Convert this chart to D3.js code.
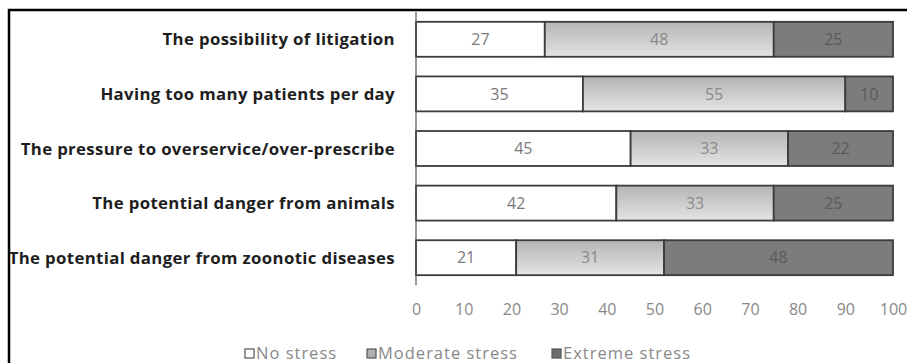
<!DOCTYPE html>
<html>
<head>
<meta charset="utf-8">
<script src="https://cdn.jsdelivr.net/npm/d3@7"></script>
<style>
  html, body { margin: 0; padding: 0; background: #fff; }
  svg { display: block; }
</style>
</head>
<body>
<svg id="chart" width="907" height="363"></svg>
<script>
// Sources of stress, top to bottom
const categories = [
  "The possibility of litigation",
  "Having too many patients per day",
  "The pressure to overservice/over-prescribe",
  "The potential danger from animals",
  "The potential danger from zoonotic diseases"
];
const seriesNames = ["No stress", "Moderate stress", "Extreme stress"];
const noStress = [27, 35, 45, 42, 21];
const moderateStress = [48, 55, 33, 33, 31];
const extremeStress = [25, 10, 22, 25, 48];
const xTicks = [0, 10, 20, 30, 40, 50, 60, 70, 80, 90, 100];

const rows = categories.map((c, i) => ({
  category: c,
  "No stress": noStress[i],
  "Moderate stress": moderateStress[i],
  "Extreme stress": extremeStress[i]
}));

const svg = d3.select("#chart");

// Frame (only top and left edges fall inside the view)
svg.append("path")
  .attr("d", "M9,363 V10 H907")
  .attr("fill", "none")
  .attr("stroke", "#000")
  .attr("stroke-width", 2.5);

const defs = svg.append("defs");
const grad = defs.append("linearGradient")
  .attr("id", "modGrad").attr("x1", 0).attr("y1", 0).attr("x2", 0).attr("y2", 1);
grad.append("stop").attr("offset", "0%").attr("stop-color", "#b4b4b4");
grad.append("stop").attr("offset", "100%").attr("stop-color", "#e4e4e4");

const fills = {
  "No stress": "#ffffff",
  "Moderate stress": "url(#modGrad)",
  "Extreme stress": "#7c7c7c"
};
const labelColors = {
  "No stress": "#7a7a7a",
  "Moderate stress": "#8a8a8a",
  "Extreme stress": "#5a5a5a"
};

const x = d3.scaleLinear().domain([0, 100]).range([416, 893]);
const y = d3.scaleBand().domain(categories).range([12, 285]).paddingInner(0.36).paddingOuter(0.18);

const stack = d3.stack().keys(seriesNames)(rows);

const layers = svg.append("g").selectAll("g")
  .data(stack).join("g")
  .attr("data-series", d => d.key);

layers.selectAll("rect")
  .data(d => d.map(p => ({ key: d.key, p })))
  .join("rect")
  .attr("x", d => x(d.p[0]))
  .attr("y", d => y(d.p.data.category))
  .attr("width", d => x(d.p[1]) - x(d.p[0]))
  .attr("height", y.bandwidth())
  .attr("fill", d => fills[d.key])
  .attr("stroke", "#3c3c3c")
  .attr("stroke-width", 1.8);

layers.selectAll("text")
  .data(d => d.map(p => ({ key: d.key, p })))
  .join("text")
  .attr("x", d => (x(d.p[0]) + x(d.p[1])) / 2)
  .attr("y", d => y(d.p.data.category) + y.bandwidth() / 2)
  .attr("dy", "0.36em")
  .attr("text-anchor", "middle")
  .attr("font-family", "'Open Sans', sans-serif")
  .attr("font-size", 16)
  .attr("fill", d => labelColors[d.key])
  .text(d => d.p[1] - d.p[0]);

// Vertical category axis line
svg.append("line")
  .attr("x1", x(0)).attr("x2", x(0))
  .attr("y1", 12).attr("y2", 285)
  .attr("stroke", "#555").attr("stroke-width", 1.2);

// Category labels
svg.append("g").selectAll("text")
  .data(categories).join("text")
  .attr("x", 395)
  .attr("y", d => y(d) + y.bandwidth() / 2)
  .attr("dy", "0.36em")
  .attr("text-anchor", "end")
  .attr("font-family", "'Open Sans', sans-serif")
  .attr("font-weight", "bold")
  .attr("font-size", 16.8)
  .attr("letter-spacing", 0.35)
  .attr("fill", "#1e1e1e")
  .text(d => d);

// Value axis (labels only)
const xAxis = svg.append("g")
  .attr("transform", "translate(0,300)")
  .call(d3.axisBottom(x).tickValues(xTicks).tickSize(0).tickPadding(4));
xAxis.select(".domain").remove();
xAxis.selectAll("text")
  .attr("font-family", "'Open Sans', sans-serif")
  .attr("font-size", 16)
  .attr("fill", "#888");

// Legend
const legendItems = [
  { name: "No stress", x: 245, fill: "#ffffff" },
  { name: "Moderate stress", x: 367, fill: "#b0b0b0" },
  { name: "Extreme stress", x: 552, fill: "#6e6e6e" }
];
const legend = svg.append("g").selectAll("g")
  .data(legendItems).join("g")
  .attr("transform", d => `translate(${d.x},349)`);
legend.append("rect")
  .attr("width", 9).attr("height", 9)
  .attr("fill", d => d.fill)
  .attr("stroke", "#555").attr("stroke-width", 1.2);
legend.append("text")
  .attr("x", 11).attr("y", 4.5).attr("dy", "0.36em")
  .attr("font-family", "'Open Sans', sans-serif")
  .attr("font-size", 16.5)
  .attr("letter-spacing", 1.0)
  .attr("fill", "#888")
  .text(d => d.name);
</script>
</body>
</html>
